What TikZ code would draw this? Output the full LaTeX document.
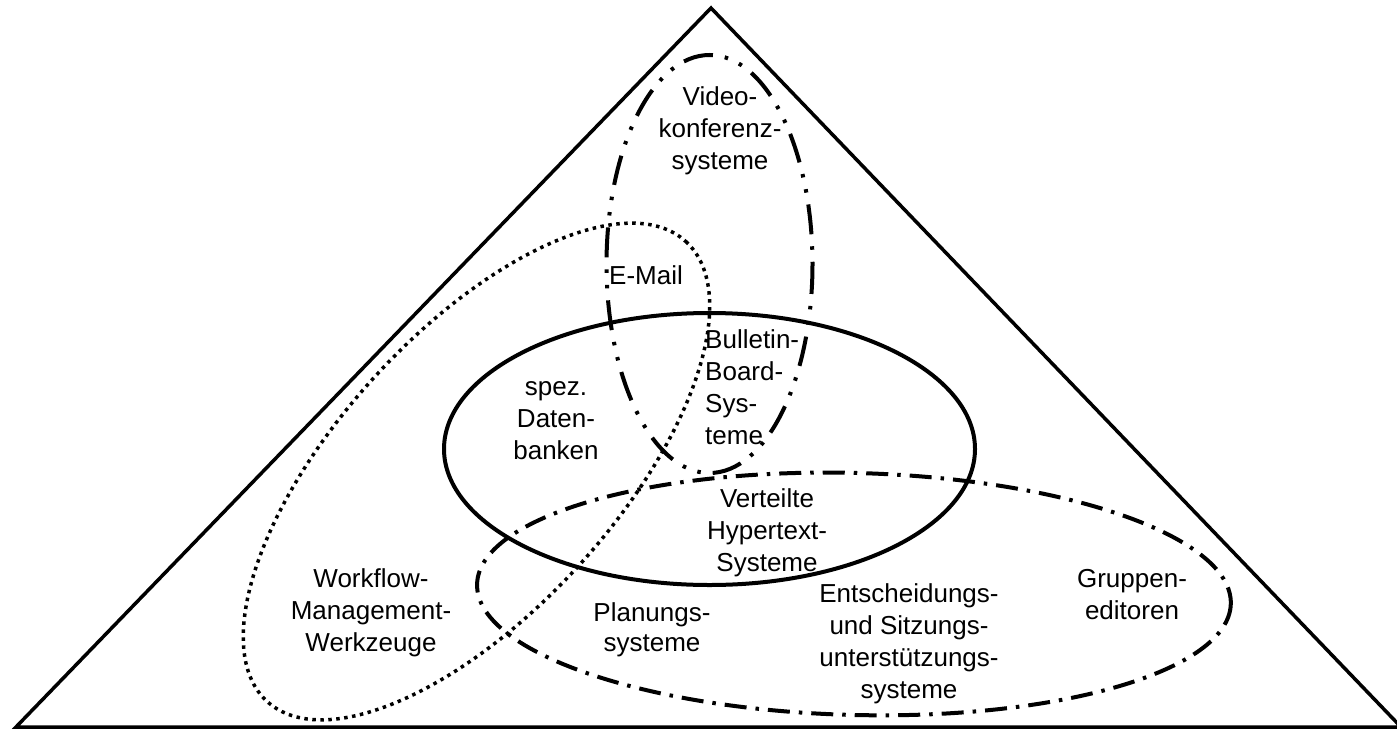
\documentclass[tikz,border=0pt]{standalone}
\usepackage{fontspec}
\setmainfont{Liberation Sans}
\begin{document}
\begin{tikzpicture}[x=1pt,y=-1pt,
  lbl/.style={inner sep=0pt, align=center, font=\fontsize{26}{32}\selectfont},
  frame/.style={line width=3.5pt, line join=miter},
  solidring/.style={line width=4pt},
  dashdotdot/.style={line width=4pt, dash pattern=on 30pt off 12pt on 3.5pt off 12pt on 3.5pt off 12pt},
  dashdot/.style={line width=4pt, dash pattern=on 22pt off 9pt on 3.5pt off 9pt},
  dotring/.style={line width=3.5pt, dash pattern=on 3.5pt off 4.5pt}]
\useasboundingbox (0,0) rectangle (1397,728);
\fill[white] (0,0) rectangle (1397,728);

% outer pyramid
\draw[frame] (16,727) -- (711,8) -- (1401,727) -- cycle;

% centres of the groups
\coordinate (cDB)    at (709.5,449);
\coordinate (cVideo) at (709.5,264);
\coordinate (cWork)  at (476.5,471.5);
\coordinate (cGroup) at (854,594);

% groups
\draw[solidring] (cDB) ellipse [x radius=265.5, y radius=136];
\draw[dashdotdot] (cVideo) ellipse [x radius=103, y radius=209];
\draw[dotring, rotate around={47.7:(cWork)}] (cWork) ellipse [x radius=311, y radius=139];
\draw[dashdot, rotate around={-1.5:(cGroup)}] (cGroup) ellipse [x radius=377, y radius=121];

% labels
\node[lbl] (video) at (720,131) {Video-\\konferenz-\\systeme};
\node[lbl, anchor=west] (email) at (609,275) {E-Mail};
\node[lbl, align=left, anchor=north west] (bbs) at (705,329) {Bulletin-\\Board-\\Sys-\\teme};
\node[lbl] (db) at (556,421) {spez.\\Daten-\\banken};
\node[lbl] (hyper) at (767,533) {Verteilte\\Hypertext-\\Systeme};
\node[lbl] (wf) at (371,613) {Workflow-\\Management-\\Werkzeuge};
\node[lbl] (plan) at (652,630) {Planungs-\\[-2pt]systeme};
\node[lbl] (dss) at (909,644) {Entscheidungs-\\und Sitzungs-\\unterstützungs-\\systeme};
\node[lbl] (edit) at (1132,595) {Gruppen-\\editoren};
\end{tikzpicture}
\end{document}
